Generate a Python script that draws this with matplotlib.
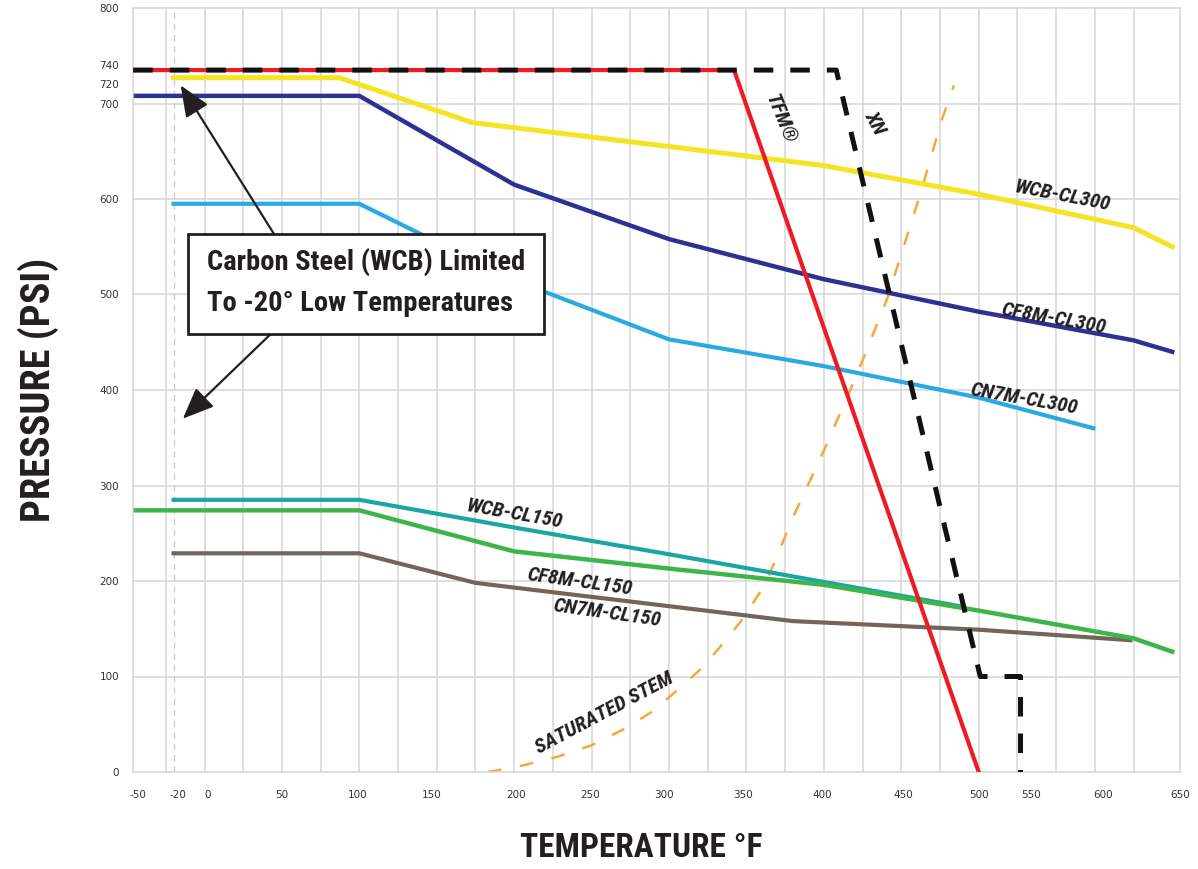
import matplotlib
matplotlib.use('Agg')
import matplotlib.pyplot as plt
from matplotlib.patches import Rectangle, FancyArrowPatch

# ---------------- data (temperature °F, pressure psi) ----------------
tfm_T = [-46, 342, 500]
tfm_P = [735, 735, 0]

xn_T = [-46, 408, 501, 527, 527]
xn_P = [735, 735, 100, 100, 0]

wcb300_T = [-20, 87, 173, 300, 400, 500, 600, 625]
wcb300_P = [727, 727, 680, 655, 635, 605, 570, 550]

cf8m300_T = [-46, 100, 200, 300, 400, 500, 600, 625]
cf8m300_P = [708, 708, 615, 558, 516, 482, 452, 440]

cn7m300_T = [-20, 100, 200, 300, 400, 500, 574]
cn7m300_P = [595, 595, 515, 453, 425, 392, 360]

wcb150_T = [-20, 100, 200, 300, 400, 490]
wcb150_P = [285, 285, 256, 228, 199, 173]

cf8m150_T = [-46, 100, 200, 300, 400, 500, 600, 625]
cf8m150_P = [274, 274, 231, 213, 196, 169, 140, 126]

cn7m150_T = [-20, 100, 175, 380, 500, 598]
cn7m150_P = [229, 229, 198, 158, 149, 138]

steam_T = [183, 206, 228, 250, 271, 289, 307, 322, 335, 346, 362, 381, 401,
           421, 441, 463, 476, 484]
steam_P = [0, 7, 16, 28, 45, 63, 88, 110, 135, 157, 196, 270, 340,
           415, 496, 609, 682, 719]

x_tick_labels = ['-50', '-20', '0', '50', '100', '150', '200', '250', '300',
                 '350', '400', '450', '500', '550', '600', '650']
x_tick_pos = [-43, -17, 2, 50, 99, 147, 201, 249, 297, 348, 399, 451, 500,
              534, 580, 630]
y_ticks = [0, 100, 200, 300, 400, 500, 600, 700, 720, 740, 800]

# ---------------- styling ----------------
COND = ['Roboto Condensed', 'DejaVu Sans']
TXT = '#231F20'
GRID = '#D6D6D6'

fig = plt.figure(figsize=(11.98, 8.69), dpi=100)
ax = fig.add_axes([133 / 1198, 97 / 869, 1047 / 1198, 764 / 869])
ax.set_xlim(-46.2, 625)
ax.set_ylim(0, 800)

# grid
for t in range(-25, 625, 25):
    ax.axvline(t, color=GRID, lw=1.1, zorder=0)
for p in range(100, 800, 100):
    ax.axhline(p, color=GRID, lw=1.1, zorder=0)
for s in ax.spines.values():
    s.set_color(GRID)
    s.set_linewidth(1.1)
ax.axvline(-20, color='#C8C8C8', lw=0.9, ls=(0, (5, 4)), zorder=0.5)

ax.set_xticks(x_tick_pos)
ax.set_xticklabels(x_tick_labels)
ax.set_yticks(y_ticks)
ax.set_yticklabels([str(v) for v in y_ticks])
ax.tick_params(length=0, labelsize=7.5, labelcolor='#333333', pad=10)
ax.tick_params(axis='x', pad=13)

# curves
ax.plot(steam_T, steam_P, color='#F7A73B', lw=1.8, dashes=(5.5, 7.5),
        zorder=1, solid_capstyle='butt')
ax.plot(cn7m150_T, cn7m150_P, color='#73655A', lw=3.0, zorder=2)
ax.plot(wcb150_T, wcb150_P, color='#1AA6A6', lw=3.0, zorder=2)
ax.plot(cf8m150_T, cf8m150_P, color='#3DB54A', lw=3.2, zorder=2.1)
ax.plot(cn7m300_T, cn7m300_P, color='#29ABE2', lw=3.0, zorder=2)
ax.plot(cf8m300_T, cf8m300_P, color='#2E3192', lw=3.2, zorder=2)
ax.plot(wcb300_T, wcb300_P, color='#F4E423', lw=3.6, zorder=2)
ax.plot(tfm_T, tfm_P, color='#ED1C24', lw=3.0, zorder=3)
ax.plot(xn_T, xn_P, color='#111111', lw=3.6, dashes=(3.9, 3.4), zorder=4,
        dash_capstyle='butt')

# curve labels
lab_kw = dict(family=COND, weight='bold', style='italic', color=TXT,
              fontsize=15, ha='center', va='center',
              rotation_mode='anchor', zorder=6)
ax.text(372, 684, 'TFM®', rotation=-68, **lab_kw)
ax.text(433, 680, 'XN', rotation=-62, **lab_kw)
ax.text(554, 603, 'WCB-CL300', rotation=-11, **lab_kw)
ax.text(548, 475, 'CF8M-CL300', rotation=-10, **lab_kw)
ax.text(529, 391, 'CN7M-CL300', rotation=-10, **lab_kw)
ax.text(200, 270, 'WCB-CL150', rotation=-10, **lab_kw)
ax.text(242, 199, 'CF8M-CL150', rotation=-8, **lab_kw)
ax.text(260, 166, 'CN7M-CL150', rotation=-8, **lab_kw)
ax.text(258, 62, 'SATURATED STEM', rotation=28, **lab_kw)

# annotation box with arrows
box = Rectangle((-10.9, 459), 230, 104, facecolor='white', edgecolor=TXT,
                lw=2.0, zorder=7)
ax.add_patch(box)
ax.text(1.3, 534, 'Carbon Steel (WCB) Limited', family=COND, weight='bold',
        fontsize=20.5, color=TXT, ha='left', va='center', zorder=8)
ax.text(1.3, 491, 'To -20° Low Temperatures', family=COND, weight='bold',
        fontsize=20.5, color=TXT, ha='left', va='center', zorder=8)
for (x0, y0), (x1, y1) in [((45, 563), (-15.4, 719)), ((43, 459), (-14, 370))]:
    arr = FancyArrowPatch((x0, y0), (x1, y1),
                          arrowstyle='-|>,head_length=1.2,head_width=0.5',
                          mutation_scale=16, lw=1.6, color=TXT,
                          shrinkA=0, shrinkB=0, zorder=6.5)
    ax.add_patch(arr)

# axis titles
fig.text(38 / 1198, 1 - 390 / 869, 'PRESSURE (PSI)', rotation=90,
         family=COND, weight='bold', fontsize=29, color=TXT,
         ha='center', va='center')
fig.text(641 / 1198, 1 - 848 / 869, 'TEMPERATURE °F', family=COND,
         weight='bold', fontsize=24, color=TXT, ha='center', va='center')

fig.savefig('out.png', dpi=100, facecolor='white')
